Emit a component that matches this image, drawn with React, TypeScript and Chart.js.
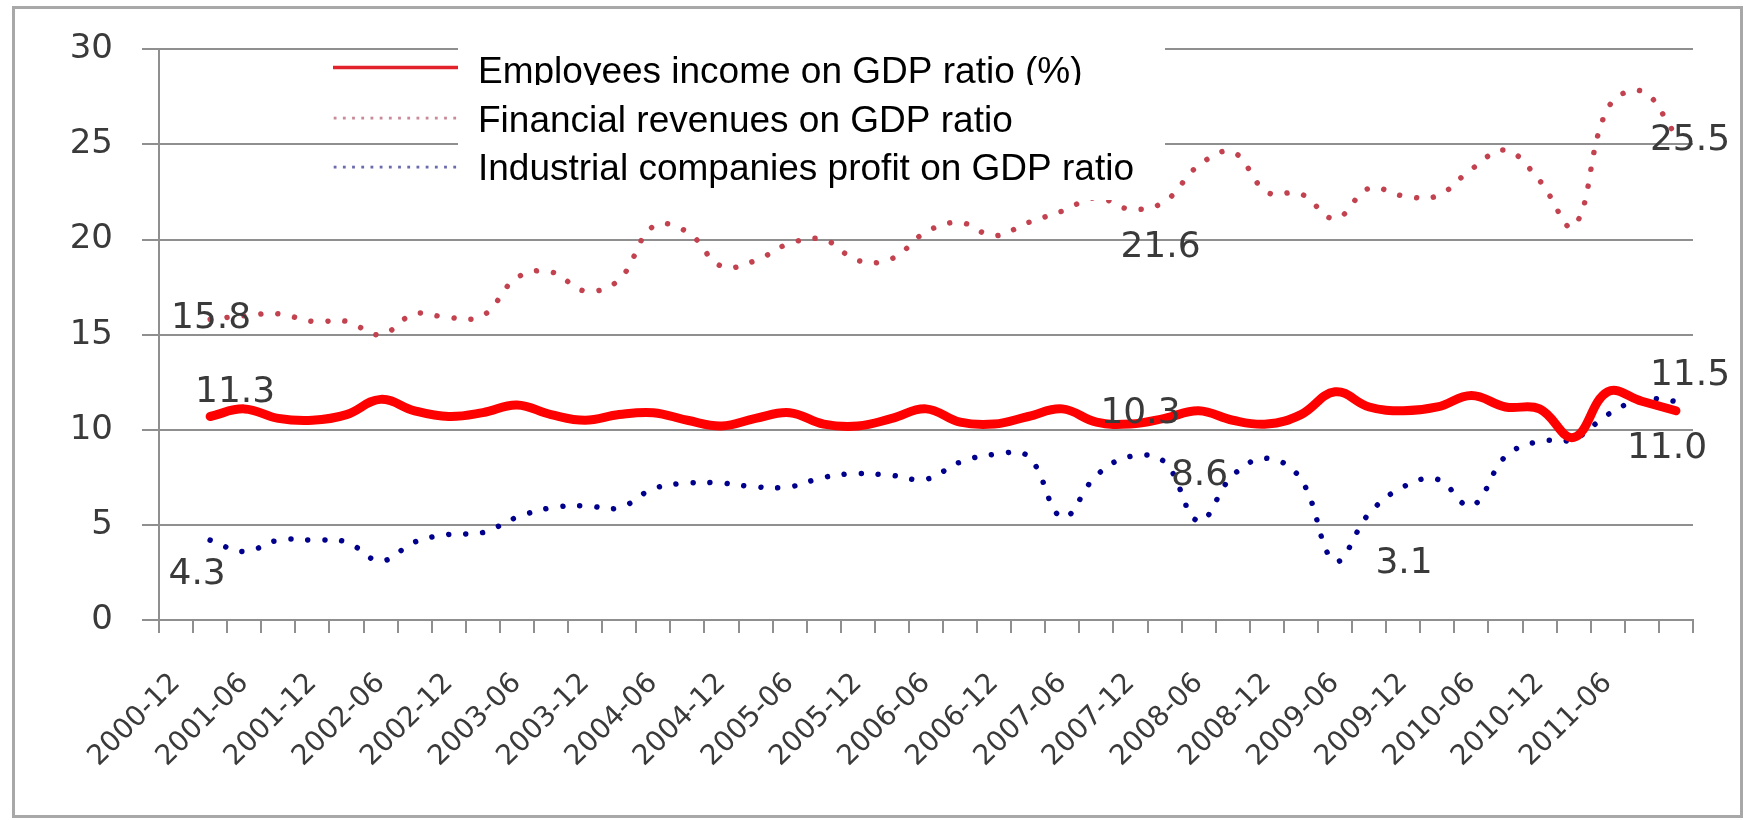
import React, { useEffect, useRef } from 'react';
import { Chart, registerables } from 'chart.js';

Chart.register(...registerables);

// ---------- data ----------
const categories = [
  '2000-12', '2001-03', '2001-06', '2001-09', '2001-12', '2002-03', '2002-06', '2002-09', '2002-12',
  '2003-03', '2003-06', '2003-09', '2003-12', '2004-03', '2004-06', '2004-09', '2004-12',
  '2005-03', '2005-06', '2005-09', '2005-12', '2006-03', '2006-06', '2006-09', '2006-12',
  '2007-03', '2007-06', '2007-09', '2007-12', '2008-03', '2008-06', '2008-09', '2008-12',
  '2009-03', '2009-06', '2009-09', '2009-12', '2010-03', '2010-06', '2010-09', '2010-12',
  '2011-03', '2011-06', '2011-09', '2011-12',
];

const employeesIncome = [
  null, 10.7, 11.1, 10.6, 10.5, 10.8, 11.6, 11.0, 10.7, 10.9, 11.3, 10.8, 10.5, 10.8, 10.9,
  10.5, 10.2, 10.6, 10.9, 10.3, 10.2, 10.6, 11.1, 10.4, 10.3, 10.7, 11.1, 10.4, 10.3,
  10.6, 11.0, 10.5, 10.3, 10.8, 12.0, 11.2, 11.0, 11.2, 11.8, 11.2, 11.1, 9.6, 12.0, 11.5, 11.0,
];

const financialRevenues = [
  null, 15.8, 16.0, 16.1, 15.7, 15.7, 15.0, 16.1, 15.9, 16.0, 18.0, 18.3, 17.3, 17.9, 20.7,
  20.4, 18.6, 18.9, 19.8, 20.0, 18.9, 19.0, 20.4, 20.9, 20.2, 20.9, 21.5, 22.2, 21.6,
  22.0, 23.9, 24.6, 22.5, 22.4, 21.1, 22.7, 22.3, 22.3, 23.7, 24.7, 23.1, 20.7, 26.9, 27.8, 25.5,
];

const industrialProfit = [
  null, 4.2, 3.6, 4.2, 4.2, 4.1, 3.1, 4.1, 4.5, 4.6, 5.4, 5.9, 6.0, 5.9, 6.9,
  7.2, 7.2, 7.0, 7.0, 7.5, 7.7, 7.6, 7.4, 8.3, 8.7, 8.6, 5.4, 7.6, 8.6,
  8.3, 5.2, 7.6, 8.5, 7.4, 3.1, 5.6, 7.0, 7.4, 6.0, 8.6, 9.4, 9.5, 10.8, 11.6, 11.5,
];

const seriesNames = [
  'Employees income on GDP ratio (%)',
  'Financial revenues on GDP ratio',
  'Industrial companies profit on GDP ratio',
];

const yMin = 0;
const yMax = 30;
const yStep = 5;
const lastLabeledIndex = 42; // last category that shows a tick label (2011-06)

// data labels: which series / category, text shown, offset from the point
const dataLabels = [
  { series: 1, index: 1, text: '15.8', dx: 1, dy: -1 },
  { series: 0, index: 1, text: '11.3', dx: 25, dy: -24 },
  { series: 2, index: 1, text: '4.3', dx: -13, dy: 35 },
  { series: 1, index: 28, text: '21.6', dx: 30, dy: 38 },
  { series: 0, index: 28, text: '10.3', dx: 10, dy: -10 },
  { series: 2, index: 28, text: '8.6', dx: 69, dy: 19 },
  { series: 2, index: 34, text: '3.1', dx: 69, dy: 3 },
  { series: 1, index: 44, text: '25.5', dx: 14, dy: 6 },
  { series: 2, index: 44, text: '11.5', dx: 14, dy: -26 },
  { series: 0, index: 44, text: '11.0', dx: -9, dy: 38 },
];

// ---------- styles ----------
const RED = '#ff0000';
const PINK = '#c2424f';
const NAVY = '#00008c';
const GRID = '#8f8f8f';
const TEXT = '#3a3a3a';

const overlayPlugin = {
  id: 'overlay',
  afterDatasetsDraw(chart: any) {
    const ctx = chart.ctx as CanvasRenderingContext2D;
    ctx.save();
    // legend box
    ctx.fillStyle = '#ffffff';
    ctx.fillRect(458, 26, 707, 174);
    const x0 = 333;
    const x1 = 458;
    const rows = [67.5, 118, 167];
    // sample lines
    ctx.lineCap = 'butt';
    ctx.strokeStyle = '#e3232b';
    ctx.lineWidth = 3.5;
    ctx.beginPath();
    ctx.moveTo(x0, rows[0]);
    ctx.lineTo(x1, rows[0]);
    ctx.stroke();
    const dotted = (y: number, color: string) => {
      ctx.fillStyle = color;
      for (let x = x0 + 2; x <= x1; x += 9.2) {
        ctx.fillRect(x - 1.3, y - 1.3, 2.8, 2.8);
      }
    };
    dotted(rows[1], '#c88a98');
    dotted(rows[2], '#6a6aae');
    ctx.fillStyle = '#000000';
    ctx.font = '37px "Liberation Sans", Arial, sans-serif';
    ctx.textAlign = 'left';
    ctx.textBaseline = 'alphabetic';
    const baselines = [83, 132, 180];
    seriesNames.forEach((n, i) => {
      ctx.save();
      if (i === 0) {
        // first legend row is cut just below its baseline in the original
        ctx.beginPath();
        ctx.rect(458, 26, 707, 59);
        ctx.clip();
      }
      ctx.fillText(n, 478, baselines[i]);
      ctx.restore();
    });

    // data labels
    ctx.font = '36px "DejaVu Sans", sans-serif';
    ctx.fillStyle = TEXT;
    ctx.textAlign = 'center';
    ctx.textBaseline = 'middle';
    dataLabels.forEach((l) => {
      const meta = chart.getDatasetMeta(l.series);
      const el = meta.data[l.index];
      if (!el) return;
      ctx.fillText(l.text, el.x + l.dx, el.y + l.dy);
    });
    ctx.restore();
  },
};

export default function App() {
  const ref = useRef<HTMLCanvasElement | null>(null);

  useEffect(() => {
    if (!ref.current) return;
    const chart = new Chart(ref.current, {
      type: 'line',
      data: {
        labels: categories,
        datasets: [
          {
            label: seriesNames[0],
            data: employeesIncome,
            borderColor: RED,
            borderWidth: 9,
            borderCapStyle: 'round',
            borderJoinStyle: 'round',
            tension: 0.4,
            pointRadius: 0,
            fill: false,
          },
          {
            label: seriesNames[1],
            data: financialRevenues,
            borderColor: PINK,
            borderWidth: 5.5,
            borderDash: [0.01, 17],
            borderCapStyle: 'round',
            tension: 0.4,
            pointRadius: 0,
            fill: false,
          },
          {
            label: seriesNames[2],
            data: industrialProfit,
            borderColor: NAVY,
            borderWidth: 5.5,
            borderDash: [0.01, 17],
            borderCapStyle: 'round',
            tension: 0.4,
            pointRadius: 0,
            fill: false,
          },
        ],
      },
      options: {
        animation: false,
        responsive: false,
        maintainAspectRatio: false,
        layout: { padding: { top: 42, right: 54, left: 0, bottom: 0 } },
        plugins: { legend: { display: false }, tooltip: { enabled: false } },
        scales: {
          x: {
            type: 'category',
            offset: true,
            grid: {
              offset: true,
              drawOnChartArea: false,
              drawTicks: true,
              tickLength: 13,
              color: GRID,
              lineWidth: 2,
            },
            border: { display: true, color: GRID, width: 2 },
            ticks: {
              autoSkip: false,
              maxRotation: 45,
              minRotation: 45,
              padding: 34,
              color: TEXT,
              font: { family: 'DejaVu Sans', size: 28 },
              callback: (_v: any, i: number) =>
                i % 2 === 0 && i <= lastLabeledIndex ? categories[i] : '',
            },
            afterFit: (s: any) => {
              s.height = 200;
            },
          },
          y: {
            min: yMin,
            max: yMax,
            ticks: {
              stepSize: yStep,
              padding: 29,
              color: TEXT,
              font: { family: 'DejaVu Sans', size: 34 },
            },
            grid: { color: GRID, lineWidth: 2, tickLength: 17, drawTicks: true },
            border: { display: true, color: GRID, width: 2 },
            afterFit: (s: any) => {
              s.width = 159;
            },
          },
        },
      },
      plugins: [overlayPlugin],
    } as any);
    return () => chart.destroy();
  }, []);

  return (
    <div
      style={{
        position: 'fixed',
        left: 0,
        top: 0,
        width: 1747,
        height: 820,
        background: '#ffffff',
        overflow: 'hidden',
      }}
    >
      <div
        style={{
          position: 'absolute',
          left: 12,
          top: 6,
          width: 1731,
          height: 812,
          boxSizing: 'border-box',
          border: '3px solid #a8a8a8',
        }}
      />
      <canvas
        ref={ref}
        width={1747}
        height={820}
        style={{ position: 'absolute', left: 0, top: 0, width: 1747, height: 820 }}
      />
    </div>
  );
}
